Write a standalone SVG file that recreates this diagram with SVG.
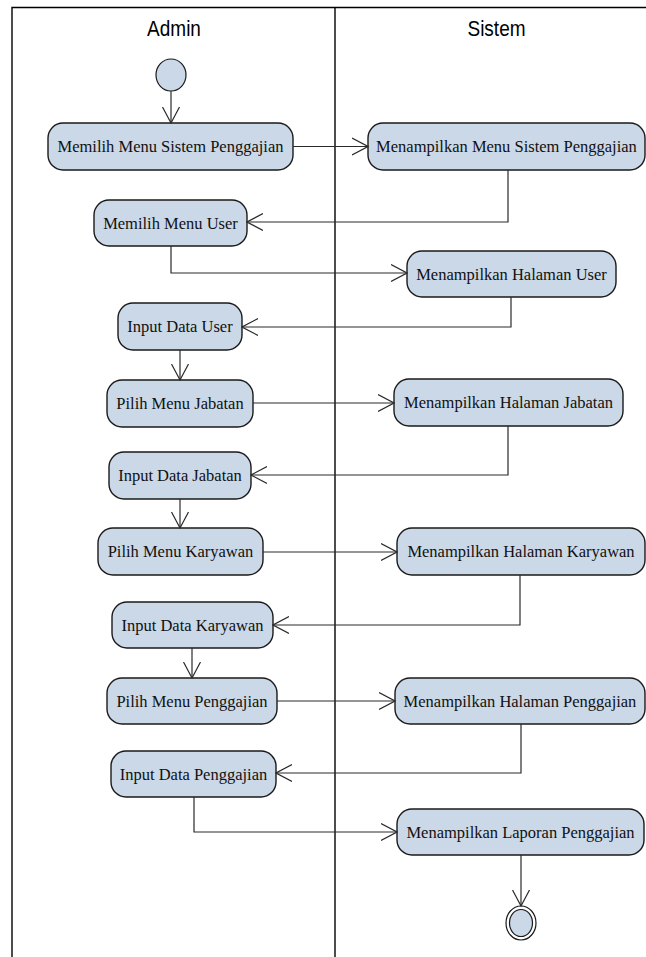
<svg xmlns="http://www.w3.org/2000/svg" width="646" height="957" viewBox="0 0 646 957">
  <style>
    .lane { stroke: #000; stroke-width: 1.4; fill: none; }
    .lane-title { font-family: "Liberation Sans", Arial, sans-serif; font-size: 19px; fill: #000; text-anchor: middle; }
    .act rect { fill: #CBD8E7; stroke: #1a1a1a; stroke-width: 1.4; }
    .act text { font-family: "Liberation Serif", "Times New Roman", serif; font-size: 16.5px; fill: #111; text-anchor: middle; }
    .flow { stroke: #2a2a2a; stroke-width: 1.2; fill: none; marker-end: url(#arrow); }
    .state { fill: #CBD8E7; stroke: #1a1a1a; stroke-width: 1.2; }
  </style>
  <defs>
    <marker id="arrow" viewBox="0 0 17 20" refX="16" refY="10" markerWidth="17" markerHeight="20" markerUnits="userSpaceOnUse" orient="auto">
      <path d="M0,1.5 L16,10 L0,18.5" fill="none" stroke="#2a2a2a" stroke-width="1.2"/>
    </marker>
  </defs>

  <rect width="646" height="957" fill="#fff"/>

  <!-- swimlanes -->
  <g id="swimlanes">
    <path class="lane" d="M12,957 V7.5 H646"/>
    <path class="lane" d="M335,7.5 V957"/>
    <text class="lane-title" transform="translate(174,36) scale(1,1.2)">Admin</text>
    <text class="lane-title" transform="translate(496.5,36) scale(1,1.2)">Sistem</text>
  </g>

  <!-- initial and final states -->
  <g id="start">
    <ellipse class="state" cx="171" cy="75" rx="15" ry="16"/>
  </g>
  <g id="end">
    <ellipse cx="521" cy="923" rx="15" ry="17" fill="#fff" stroke="#1a1a1a" stroke-width="1.2"/>
    <ellipse class="state" cx="521" cy="923" rx="11.5" ry="13.5"/>
  </g>

  <!-- activities -->
  <g id="memilih-menu-sistem" class="act">
    <rect x="48" y="123" width="245" height="47" rx="15"/>
    <text x="170.5" y="152">Memilih Menu Sistem Penggajian</text>
  </g>
  <g id="tampil-menu-sistem" class="act">
    <rect x="368" y="123" width="277" height="47" rx="15"/>
    <text x="506.5" y="152">Menampilkan Menu Sistem Penggajian</text>
  </g>
  <g id="memilih-menu-user" class="act">
    <rect x="94" y="200" width="153" height="46" rx="15"/>
    <text x="170.5" y="228.5">Memilih Menu User</text>
  </g>
  <g id="tampil-halaman-user" class="act">
    <rect x="407" y="251" width="209" height="46" rx="15"/>
    <text x="511.5" y="279.5">Menampilkan Halaman User</text>
  </g>
  <g id="input-data-user" class="act">
    <rect x="118" y="303" width="124" height="47" rx="15"/>
    <text x="180" y="332">Input Data User</text>
  </g>
  <g id="pilih-menu-jabatan" class="act">
    <rect x="107" y="380" width="146" height="47" rx="15"/>
    <text x="180" y="409">Pilih Menu Jabatan</text>
  </g>
  <g id="tampil-halaman-jabatan" class="act">
    <rect x="394" y="379" width="229" height="47" rx="15"/>
    <text x="508.5" y="408">Menampilkan Halaman Jabatan</text>
  </g>
  <g id="input-data-jabatan" class="act">
    <rect x="109" y="452" width="142" height="47" rx="15"/>
    <text x="180" y="481">Input Data Jabatan</text>
  </g>
  <g id="pilih-menu-karyawan" class="act">
    <rect x="98" y="528" width="165" height="47" rx="15"/>
    <text x="180.5" y="557">Pilih Menu Karyawan</text>
  </g>
  <g id="tampil-halaman-karyawan" class="act">
    <rect x="397" y="528" width="248" height="47" rx="15"/>
    <text x="521" y="557">Menampilkan Halaman Karyawan</text>
  </g>
  <g id="input-data-karyawan" class="act">
    <rect x="112" y="602" width="161" height="46" rx="15"/>
    <text x="192.5" y="630.5">Input Data Karyawan</text>
  </g>
  <g id="pilih-menu-penggajian" class="act">
    <rect x="107" y="678" width="170" height="46" rx="15"/>
    <text x="192" y="706.5">Pilih Menu Penggajian</text>
  </g>
  <g id="tampil-halaman-penggajian" class="act">
    <rect x="395" y="678" width="250" height="46" rx="15"/>
    <text x="520" y="706.5">Menampilkan Halaman Penggajian</text>
  </g>
  <g id="input-data-penggajian" class="act">
    <rect x="111" y="751" width="165" height="46" rx="15"/>
    <text x="193.5" y="779.5">Input Data Penggajian</text>
  </g>
  <g id="tampil-laporan-penggajian" class="act">
    <rect x="397" y="809" width="247" height="46" rx="15"/>
    <text x="520.5" y="837.5">Menampilkan Laporan Penggajian</text>
  </g>

  <!-- control flows -->
  <g id="connectors">
    <path class="flow" d="M171,91 V123"/>
    <path class="flow" d="M293,146.5 H368"/>
    <path class="flow" d="M508,170 V222 H247"/>
    <path class="flow" d="M171,246 V273 H407"/>
    <path class="flow" d="M511,297 V327 H242"/>
    <path class="flow" d="M180,350 V380"/>
    <path class="flow" d="M253,403 H394"/>
    <path class="flow" d="M508,426 V475 H251"/>
    <path class="flow" d="M180,499 V528"/>
    <path class="flow" d="M263,552 H397"/>
    <path class="flow" d="M520,575 V625 H273"/>
    <path class="flow" d="M192,648 V678"/>
    <path class="flow" d="M277,701 H395"/>
    <path class="flow" d="M521,724 V773 H276"/>
    <path class="flow" d="M194,797 V832 H397"/>
    <path class="flow" d="M521,855 V906"/>
  </g>
</svg>
